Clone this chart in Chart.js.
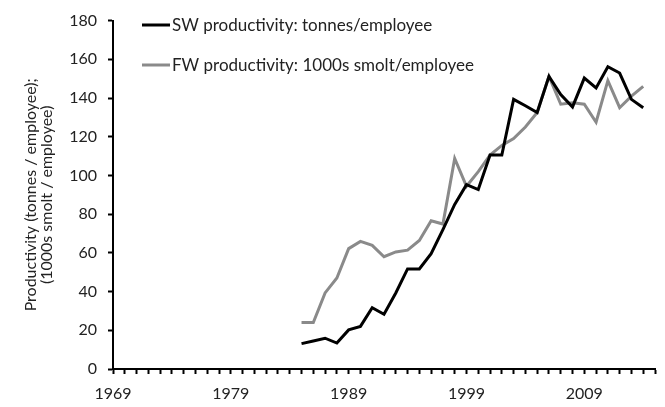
<!DOCTYPE html>
<html>
<head>
<meta charset="utf-8">
<script src="https://cdn.jsdelivr.net/npm/chart.js@4"></script>
<style>
  html, body { margin: 0; padding: 0; background: #fff; }
  #wrap { width: 665px; height: 407px; }
</style>
</head>
<body>
<div id="wrap"><canvas id="myChart" width="665" height="407"></canvas></div>
<script>
const ctx = document.getElementById("myChart").getContext("2d");

// years 1985..2014
let years = [1985, 1986, 1987, 1988, 1989, 1990, 1991, 1992, 1993, 1994,
             1995, 1996, 1997, 1998, 1999, 2000, 2001, 2002, 2003, 2004,
             2005, 2006, 2007, 2008, 2009, 2010, 2011, 2012, 2013, 2014];
let swValues = [13.1, 14.5, 15.9, 13.4, 20.2, 22, 31.7, 28.3, 39.3, 51.7,
                51.7, 59.6, 72, 85, 95.2, 92.7, 110.5, 110.5, 139.3, 136,
                132.5, 151.2, 141.8, 135.4, 150.3, 145.2, 156.2, 152.9, 139.3, 135];
let fwValues = [24, 24, 39.3, 47, 62.2, 65.9, 63.9, 58, 60.5, 61.4,
                66.4, 76.6, 74.9, 108.8, 94.4, 102, 110.5, 115.5, 119, 125,
                132.5, 151.2, 136.8, 137.6, 136.8, 127.5, 149, 135, 141, 146];
let seriesNames = ["SW productivity: tonnes/employee", "FW productivity: 1000s smolt/employee"];
let xTickLabels = [1969, 1979, 1989, 1999, 2009];
let yTitle = ["Productivity (tonnes / employee);", "(1000s smolt / employee)"];

const FONT = "Lato";

function toPoints(vals) {
    let pts = [];
    for (let i = 0; i < years.length; i++) {
        pts.push({ x: years[i], y: vals[i] });
    }
    return pts;
}

// legend drawn inside the plot, top left
const insideLegend = {
    id: "insideLegend",
    afterDraw(chart) {
        const c = chart.ctx;
        const rows = [25, 65];
        c.save();
        c.font = "17px " + FONT;
        c.textBaseline = "middle";
        c.fillStyle = "#222";
        chart.data.datasets.forEach((ds, i) => {
            c.strokeStyle = ds.borderColor;
            c.lineWidth = 3;
            c.beginPath();
            c.moveTo(142, rows[i]);
            c.lineTo(170, rows[i]);
            c.stroke();
            c.fillText(ds.label, 172, rows[i] + 1);
        });
        c.restore();
    }
};

const myChart = new Chart(ctx, {
    type: "line",
    data: {
        datasets: [{
                label: seriesNames[0],
                data: toPoints(swValues),
                borderColor: "#000000",
                borderWidth: 3,
                pointRadius: 0,
                tension: 0,
            },
            {
                label: seriesNames[1],
                data: toPoints(fwValues),
                borderColor: "#8a8a8a",
                borderWidth: 3,
                pointRadius: 0,
                tension: 0,
            },
        ],
    },
    options: {
        responsive: false,
        animation: false,
        events: [],
        layout: { padding: { top: 15, right: 0, left: 0, bottom: 0 } },
        plugins: {
            legend: { display: false },
            tooltip: { enabled: false },
        },
        scales: {
            x: {
                type: "linear",
                min: 1969,
                max: 2015,
                border: { color: "#000", width: 2 },
                grid: { drawOnChartArea: false, color: "#000", tickLength: 5, tickWidth: 2 },
                ticks: {
                    stepSize: 1,
                    autoSkip: false,
                    maxRotation: 0,
                    padding: 10,
                    color: "#222",
                    font: { family: FONT, size: 16 },
                    callback: (v) => xTickLabels.includes(v) ? String(v) : "",
                },
                afterFit: (scale) => { scale.height = 38; },
            },
            y: {
                min: 0,
                max: 180,
                border: { color: "#000", width: 2 },
                grid: { drawOnChartArea: false, color: "#000", tickLength: 5, tickWidth: 2 },
                ticks: {
                    stepSize: 20,
                    padding: 11,
                    color: "#222",
                    font: { family: FONT, size: 16 },
                },
                title: {
                    display: true,
                    text: yTitle,
                    color: "#222",
                    font: { family: FONT, size: 16, lineHeight: 1 },
                    padding: { top: 23, bottom: 0 },
                },
                afterFit: (scale) => { scale.width = 113; },
            },
        },
    },
    plugins: [insideLegend],
});
</script>
</body>
</html>
